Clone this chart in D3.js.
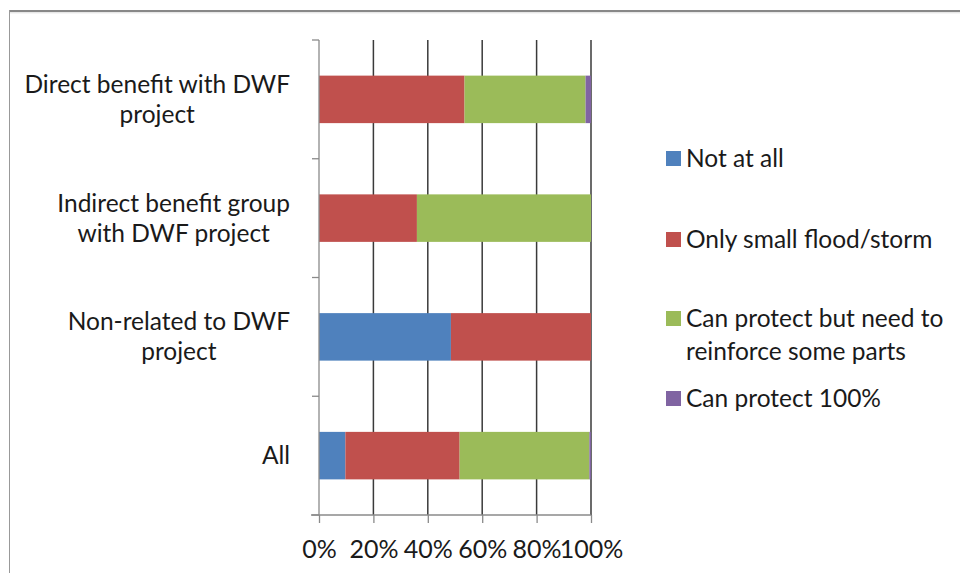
<!DOCTYPE html>
<html>
<head>
<meta charset="utf-8">
<script src="https://cdn.jsdelivr.net/npm/d3@7"></script>
<style>
  html, body { margin: 0; padding: 0; background: #fff; }
  svg { display: block; }
  text { font-family: Lato, "Open Sans", sans-serif; fill: #1a1a1a; }
</style>
</head>
<body>
<svg id="chart" width="960" height="573"></svg>
<script>
// ---- data ----
const categories = [
  ["Direct benefit with DWF", "project"],
  ["Indirect benefit group", "with DWF project"],
  ["Non-related to DWF", "project"],
  ["All"]
];
const seriesNames = [
  "Not at all",
  "Only small flood/storm",
  "Can protect but need to|reinforce some parts",
  "Can protect 100%"
];
const seriesColors = ["#4F81BD", "#C0504D", "#9BBB59", "#8064A2"];
const notAtAll       = [0,    0,  48.5, 9.7];
const onlySmall      = [53.5, 36, 51.5, 42.0];
const needReinforce  = [44.5, 64, 0,    47.7];
const protect100     = [2.0,  0,  0,    0.6];
const xTicks = [0, 20, 40, 60, 80, 100];

// ---- build table ----
const catKeys = categories.map(c => c.join(" "));
const seriesArrays = [notAtAll, onlySmall, needReinforce, protect100];
const table = catKeys.map((k, i) => {
  const row = { cat: k };
  seriesNames.forEach((s, j) => row[s] = seriesArrays[j][i]);
  return row;
});
const stacked = d3.stack().keys(seriesNames)(table);

const svg = d3.select("#chart");

// outer frame
svg.append("line").attr("x1", 9).attr("x2", 960).attr("y1", 11).attr("y2", 11)
  .attr("stroke", "#888").attr("stroke-width", 2);
svg.append("line").attr("x1", 9).attr("x2", 960).attr("y1", 12.8).attr("y2", 12.8)
  .attr("stroke", "#ddd").attr("stroke-width", 1);
svg.append("line").attr("x1", 9.5).attr("x2", 9.5).attr("y1", 10).attr("y2", 573)
  .attr("stroke", "#999").attr("stroke-width", 1);

const x = d3.scaleLinear().domain([0, 100]).range([319, 591]);
const y = d3.scaleBand().domain(catKeys).range([40, 515]).paddingInner(0.6).paddingOuter(0.3);

// gridlines
svg.append("g").selectAll("line").data(xTicks.filter(t => t > 0)).join("line")
  .attr("x1", d => x(d)).attr("x2", d => x(d))
  .attr("y1", 40).attr("y2", 515)
  .attr("stroke", "#3a3a3a").attr("stroke-width", 1.5);

// bars
svg.append("g").selectAll("g").data(stacked).join("g")
  .attr("fill", (d, i) => seriesColors[i])
  .selectAll("rect").data(d => d).join("rect")
  .attr("x", d => x(d[0]))
  .attr("width", d => Math.max(0, x(d[1]) - x(d[0])))
  .attr("y", d => y(d.data.cat))
  .attr("height", y.bandwidth());

// x axis (bottom)
const xAxis = d3.axisBottom(x).tickValues(xTicks).tickFormat(d => d + "%").tickSize(8).tickSizeOuter(0);
const gx = svg.append("g").attr("transform", "translate(0,515)").call(xAxis);
gx.select(".domain").remove();
gx.selectAll(".tick line").attr("stroke", "#8a8a8a").attr("stroke-width", 1.3);
gx.selectAll(".tick text").attr("font-size", 25).attr("dy", null).attr("y", 43)
  .style("font-family", "Lato, sans-serif").attr("fill", "#1a1a1a");
svg.append("line").attr("x1", 311).attr("x2", 591).attr("y1", 515).attr("y2", 515)
  .attr("stroke", "#8a8a8a").attr("stroke-width", 1.3);

// y axis line and ticks at band boundaries
const bounds = d3.range(catKeys.length + 1).map(i => 40 + i * (475 / catKeys.length));
svg.append("line").attr("x1", 319).attr("x2", 319).attr("y1", 40).attr("y2", 515)
  .attr("stroke", "#8a8a8a").attr("stroke-width", 1.3);
svg.append("g").selectAll("line").data(bounds).join("line")
  .attr("x1", 312).attr("x2", 319).attr("y1", d => d).attr("y2", d => d)
  .attr("stroke", "#8a8a8a").attr("stroke-width", 1.3);

// y category labels (multi-line, centered within block, block right aligned)
const lineH = 30;
const gy = svg.append("g");
categories.forEach((lines, i) => {
  const cy = y(catKeys[i]) + y.bandwidth() / 2;
  const g = gy.append("g");
  const texts = lines.map((ln, j) => g.append("text")
    .attr("font-size", 24.5)
    .attr("text-anchor", "middle")
    .attr("y", cy + (j - (lines.length - 1) / 2) * lineH + 8.5)
    .text(ln));
  const widths = texts.map(t => t.node().getComputedTextLength());
  const maxW = d3.max(widths);
  const right = 290;
  texts.forEach(t => t.attr("x", right - maxW / 2));
});

// legend
const legendRows = [167, 248, 327, 407];
const lg = svg.append("g");
seriesNames.forEach((s, i) => {
  const by = legendRows[i];
  lg.append("rect").attr("x", 666).attr("y", by - 16).attr("width", 15).attr("height", 15)
    .attr("fill", seriesColors[i]);
  s.split("|").forEach((ln, j) => {
    lg.append("text").attr("x", 686).attr("y", by + j * 33)
      .attr("font-size", 24.5).text(ln);
  });
});
</script>
</body>
</html>
